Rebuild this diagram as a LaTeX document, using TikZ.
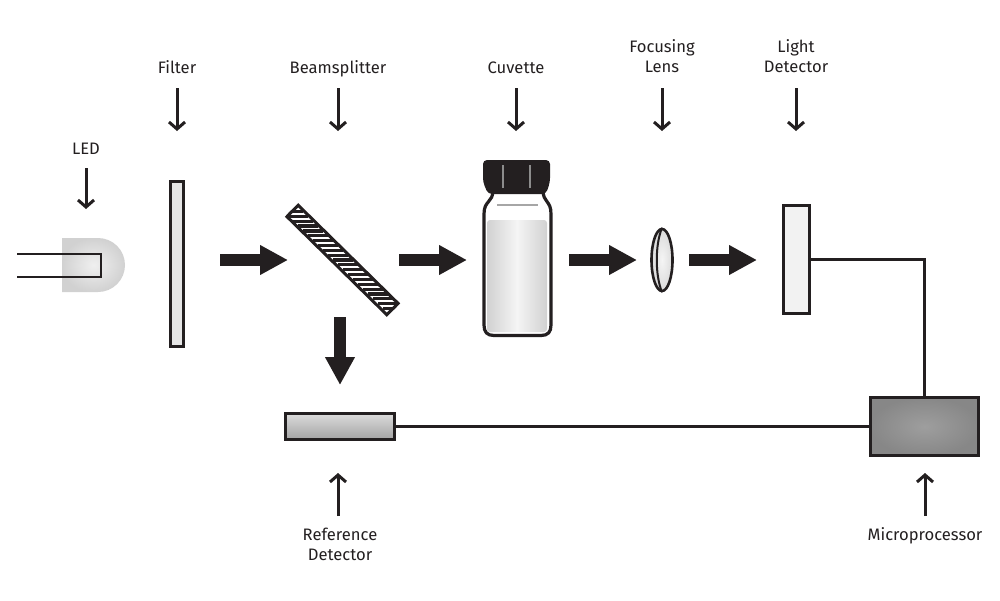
\documentclass[tikz,border=0pt]{standalone}
\usepackage{fontspec}
\setmainfont{Fira Sans}
\usetikzlibrary{arrows.meta,shapes.geometric}
\definecolor{ink}{HTML}{231F20}
\newcommand{\partfont}{\fontsize{16.6}{20}\selectfont}

\begin{document}
\begin{tikzpicture}
    [x=1pt, y=-1pt,
    part label/.style={font=\partfont, align=center, inner sep=0pt, text=ink,
      execute at begin node=\strut, execute at end node=\strut},
    pointer/.style={draw=ink, line width=3pt, shorten <=9pt,
      -{Straight Barb[length=7pt,width=16pt,line width=3pt]}},
    beam/.style={draw=ink, line width=12pt, -{Triangle[length=28pt,width=28pt]}},
    wire/.style={draw=ink, line width=2.6pt},
    part box/.style={rectangle, draw=ink, line width=3pt, inner sep=0pt}]
    \useasboundingbox (0, 0) rectangle (1000, 600);

    % labels and their pointers
    \node[part label, anchor=south] (led label) at (86, 161) {LED};
    \node[part label, anchor=south] (filter label) at (177, 80) {Filter};
    \node[part label, anchor=south] (splitter label) at (338, 80) {Beamsplitter};
    \node[part label, anchor=south] (cuvette label) at (516, 80) {Cuvette};
    \node[part label, anchor=south] (lens label) at (662, 79) {Focusing\\Lens};
    \node[part label, anchor=south] (light label) at (796, 79) {Light\\Detector};
    \node[part label, anchor=north] (reference label) at (340, 528) {Reference\\Detector};
    \node[part label, anchor=north] (micro label) at (925, 526) {Microprocessor};
    \coordinate (led tip) at (86, 209);
    \coordinate (filter tip) at (177, 131);
    \coordinate (splitter tip) at (338, 131);
    \coordinate (cuvette tip) at (516, 131);
    \coordinate (lens tip) at (662, 131);
    \coordinate (light tip) at (796, 131);
    \coordinate (reference tip) at (338, 473);
    \coordinate (micro tip) at (925, 473);
    \draw[pointer, shorten <=7pt] (led label.south) -- (led tip);
    \draw[pointer, shorten <=8pt] (filter label.south) -- (filter tip);
    \draw[pointer, shorten <=8pt] (splitter label.south) -- (splitter tip);
    \draw[pointer, shorten <=8pt] (cuvette label.south) -- (cuvette tip);
    \draw[pointer] (lens label.south) -- (lens tip);
    \draw[pointer] (light label.south) -- (light tip);
    \draw[pointer, shorten <=12pt] (reference tip |- reference label.north) -- (reference tip);
    \draw[pointer, shorten <=10pt] (micro label.north) -- (micro tip);

    % LED
    \shade[inner color=black!6, outer color=black!18] (62, 238) -- (98, 238)
      arc [start angle=-90, end angle=90, radius=27] -- (62, 292) -- cycle;
    \draw[wire] (17, 254) -- (101, 254) -- (101, 277) -- (17, 277);

    % filter and beamsplitter
    \node[part box, fill=black!10, minimum width=13pt, minimum height=165pt]
      (filter) at (177, 264) {};
    \node[part box, fill=white, minimum width=140pt, minimum height=16pt, rotate=-44.5]
      (splitter) at (342.5, 260) {};
    \begin{scope}
      \clip (splitter.north west) -- (splitter.north east)
        -- (splitter.south east) -- (splitter.south west) -- cycle;
      \foreach \i in {-10,...,10}
        \fill[ink] (332.5 + 5*\i, 258.4 + 4.85*\i) rectangle (352.5 + 5*\i, 261.6 + 4.85*\i);
    \end{scope}

    % cuvette
    \fill[white] (493, 190) .. controls (493, 203) and (484, 200) .. (484, 214)
      -- (484, 325) .. controls (484, 332) and (487, 335.5) .. (494, 335.5)
      -- (541, 335.5) .. controls (548, 335.5) and (551, 332) .. (551, 325)
      -- (551, 214) .. controls (551, 200) and (543, 203) .. (543, 190) -- cycle;
    \shade[left color=black!18, right color=black!18, middle color=black!4, rounded corners=3pt]
      (487, 220) rectangle (547, 332);
    \draw[black!35, line width=1.2pt] (497, 205) -- (538, 205);
    \draw[ink, line width=3.2pt] (493, 190) .. controls (493, 203) and (484, 200) .. (484, 214)
      -- (484, 325) .. controls (484, 332) and (487, 335.5) .. (494, 335.5)
      -- (541, 335.5) .. controls (548, 335.5) and (551, 332) .. (551, 325)
      -- (551, 214) .. controls (551, 200) and (543, 203) .. (543, 190);
    \fill[ink, rounded corners=4pt] (483, 160) -- (550, 160) -- (550, 182) -- (546, 194)
      -- (488, 194) -- (483, 182) -- cycle;
    \draw[black!45, line width=1.2pt] (503, 165) -- (503, 188);
    \draw[black!45, line width=1.2pt] (530, 165) -- (530, 188);

    % lens and detectors
    \node[ellipse, draw=ink, line width=2.6pt, inner color=black!4, outer color=black!14,
      inner sep=0pt, minimum width=21pt, minimum height=62pt]
      (lens) at (662, 260) {};
    \draw[ink, line width=2pt] (lens.north) .. controls (655, 245) and (655, 275) .. (lens.south);
    \node[part box, fill=black!5, minimum width=26pt, minimum height=108pt]
      (light detector) at (796.5, 259.5) {};
    \node[part box, top color=black!14, bottom color=black!36, minimum width=109pt, minimum height=26pt]
      (reference detector) at (340, 426.5) {};
    \node[part box, inner color=black!38, outer color=black!47, minimum width=108pt, minimum height=58pt]
      (microprocessor) at (924.5, 426.5) {};
    \draw[wire] (light detector.east) -| (microprocessor.north);
    \draw[wire] (reference detector.east) -- (microprocessor.west);

    % light path
    \coordinate (beam a) at (220, 260);
    \coordinate (beam b) at (288, 260);
    \coordinate (beam c) at (399, 260);
    \coordinate (beam d) at (467, 260);
    \coordinate (beam e) at (569, 260);
    \coordinate (beam f) at (637, 260);
    \coordinate (beam g) at (689, 260);
    \coordinate (beam h) at (757, 260);
    \coordinate (beam i) at (340, 317);
    \coordinate (beam j) at (340, 385);
    \draw[beam] (beam a) -- (beam b);
    \draw[beam] (beam c) -- (beam d);
    \draw[beam] (beam e) -- (beam f);
    \draw[beam] (beam g) -- (beam h);
    \draw[beam] (beam i) -- (beam j);
  \end{tikzpicture}
\end{document}
